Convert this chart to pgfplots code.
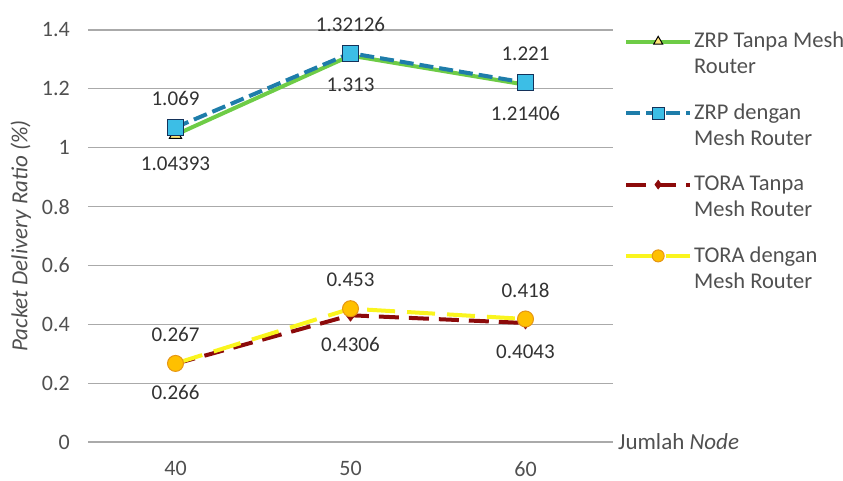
\documentclass[border=0pt]{standalone}
\usepackage{fontspec}
\setmainfont{Carlito}
\usepackage{pgfplots}
\pgfplotsset{compat=1.18}
\definecolor{zrpgreen}{RGB}{110,204,70}
\definecolor{zrpblue}{RGB}{30,125,170}
\definecolor{sqfill}{RGB}{60,190,230}
\definecolor{sqedge}{RGB}{20,50,90}
\definecolor{trifill}{RGB}{255,230,120}
\definecolor{toraRed}{RGB}{140,10,10}
\definecolor{toraYellow}{RGB}{250,245,30}
\definecolor{circfill}{RGB}{255,192,0}
\definecolor{circedge}{RGB}{230,150,20}
\definecolor{labcol}{RGB}{50,50,50}
\definecolor{tickcol}{RGB}{80,80,80}
\definecolor{gridcol}{RGB}{170,170,170}
\begin{document}
\fontsize{21}{26}\selectfont
\begin{tikzpicture}
\path[use as bounding box] (0,0) rectangle (843pt,480pt);
\begin{axis}[
  at={(88pt,38pt)}, anchor=south west,
  scale only axis, width=525pt, height=412pt,
  xmin=-0.5, xmax=2.5, ymin=0, ymax=1.4,
  xtick={0,1,2}, xticklabels={40,50,60},
  ytick={0,0.2,0.4,0.6,0.8,1,1.2,1.4},
  yticklabels={0,0.2,0.4,0.6,0.8,1,1.2,1.4},
  axis line style={draw=none},
  major tick length=0pt,
  ymajorgrids, grid style={gridcol, line width=1.2pt},
  every tick label/.append style={font=\fontsize{22}{26}\selectfont, text=tickcol},
  xticklabel style={yshift=-12pt},
  yticklabel style={xshift=-11pt},
  ylabel={\itshape Packet Delivery Ratio (\%)},
  every axis y label/.style={at={(axis description cs:-0.128,0.5)}, rotate=90, anchor=center, font=\fontsize{23}{26}\selectfont, text=tickcol},
  clip=false,
  point meta=explicit symbolic,
  nodes near coords,
  every node near coord/.append style={font=\fontsize{21}{26}\selectfont, text=labcol, anchor=center},
  legend style={draw=none, fill=none, at={(axis description cs:1,1)}, anchor=north west, xshift=8pt, yshift=2pt, row sep=49pt, font=\fontsize{22.5}{26}\selectfont, text=tickcol, cells={anchor=west}},
  legend image code/.code={\draw[mark repeat=2,mark phase=2,#1,every mark/.append style={scale=0.75}] plot coordinates {(0pt,0pt) (32pt,0pt) (64pt,0pt)};},
]
\addplot[zrpgreen, line width=4pt, mark=triangle*, mark size=7pt, mark options={solid, fill=trifill, draw=black, line width=1pt},
  every node near coord/.append style={yshift=-29pt}]
  coordinates {(0,1.04393)[1.04393] (1,1.313)[1.313] (2,1.21406)[1.21406]};
\addlegendentry{\parbox[t]{200pt}{\raggedright ZRP Tanpa Mesh\\Router}}
\addplot[zrpblue, line width=4pt, dash pattern=on 14pt off 6pt, mark=square*, mark size=8pt, mark options={solid, fill=sqfill, draw=sqedge, line width=1.2pt},
  every node near coord/.append style={yshift=29pt}]
  coordinates {(0,1.069)[1.069] (1,1.32126)[1.32126] (2,1.221)[1.221]};
\addlegendentry{\parbox[t]{200pt}{\raggedright ZRP dengan\\Mesh Router}}
\addplot[toraRed, line width=4pt, dash pattern=on 20pt off 10pt, mark=diamond*, mark size=6pt, mark options={solid, fill=toraRed, draw=toraRed, line width=0.5pt},
  every node near coord/.append style={yshift=-29pt}]
  coordinates {(0,0.266)[0.266] (1,0.4306)[0.4306] (2,0.4043)[0.4043]};
\addlegendentry{\parbox[t]{200pt}{\raggedright TORA Tanpa\\Mesh Router}}
\addplot[toraYellow, line width=4pt, dash pattern=on 28pt off 12pt, mark=*, mark size=8pt, mark options={solid, fill=circfill, draw=circedge, line width=1pt},
  every node near coord/.append style={yshift=29pt}]
  coordinates {(0,0.267)[0.267] (1,0.453)[0.453] (2,0.418)[0.418]};
\addlegendentry{\parbox[t]{200pt}{\raggedright TORA dengan\\Mesh Router}}
\node[anchor=west, font=\fontsize{23}{26}\selectfont, text=tickcol, xshift=-2pt] at (rel axis cs:1,0) {Jumlah \textit{Node}};
\end{axis}
\end{tikzpicture}
\end{document}
